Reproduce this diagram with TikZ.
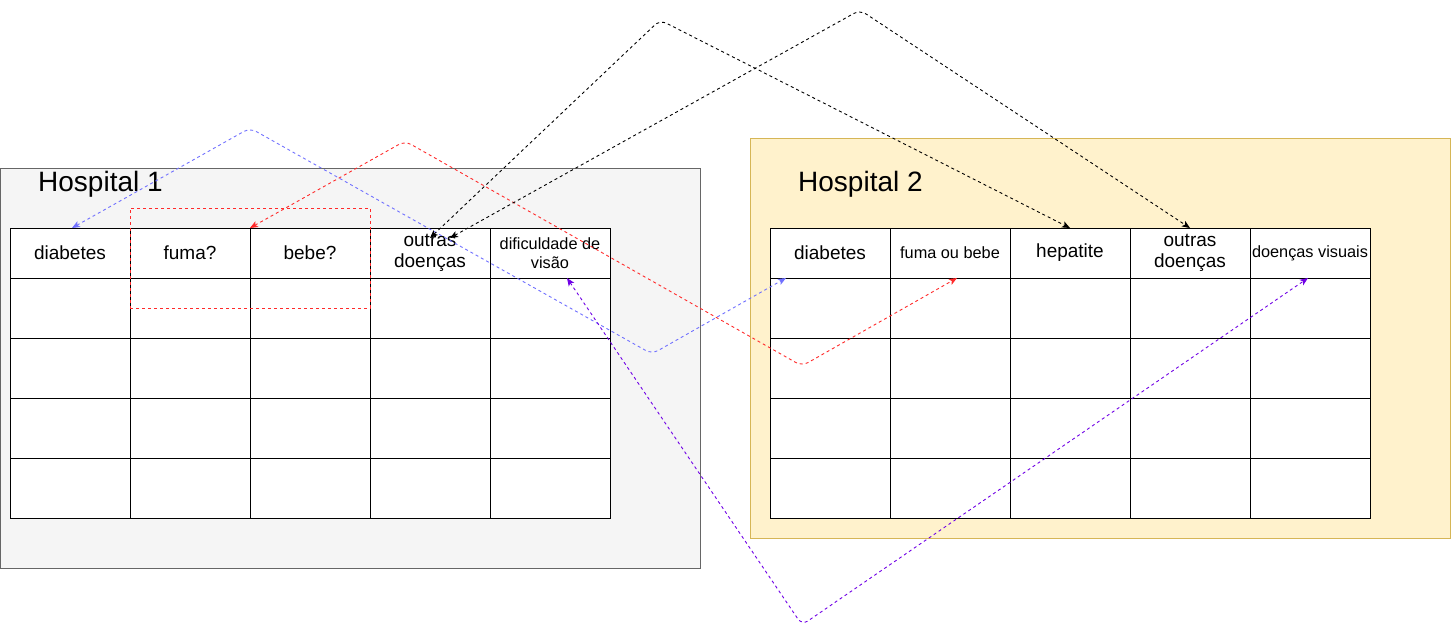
\documentclass[tikz,border=0pt]{standalone}
\usepackage{fontspec}
\setmainfont{Liberation Sans}
\usetikzlibrary{arrows.meta}
\definecolor{hosponefill}{HTML}{F5F5F5}
\definecolor{hosponedraw}{HTML}{666666}
\definecolor{hosptwofill}{HTML}{FFF2CC}
\definecolor{hosptwodraw}{HTML}{D6B656}
\definecolor{bluec}{HTML}{7070FF}
\definecolor{redc}{HTML}{FF2A2A}
\definecolor{purplec}{HTML}{7000E6}
\begin{document}
\begin{tikzpicture}[x=1pt,y=-1pt,
  hosp/.style={minimum width=700pt, minimum height=400pt, inner sep=0pt, outer sep=0pt, anchor=north west, line width=0.8pt},
  title/.style={font=\fontsize{28}{32}\selectfont, anchor=west, inner sep=0pt},
  cell/.style={draw=black, line width=1pt, fill=white, minimum width=120pt, minimum height=60pt, inner sep=0pt, outer sep=0pt, anchor=north west},
  head/.style={cell, minimum height=50pt, font=\fontsize{19}{21}\selectfont, align=center},
  small/.style={font=\fontsize{16.3}{19}\selectfont},
  conn/.style={dash pattern=on 3pt off 3pt, line width=0.9pt, rounded corners=7pt,
    {Stealth[length=8pt,width=6.5pt,inset=2pt]}-{Stealth[length=8pt,width=6.5pt,inset=2pt]}}
]
\useasboundingbox (0,0) rectangle (1451,638);

% hospital boxes
\node[hosp, draw=hosponedraw, fill=hosponefill] (h1) at (0,168) {};
\node[hosp, draw=hosptwodraw, fill=hosptwofill] (h2) at (750,138) {};
\node[title] (t1) at (38,184) {Hospital 1};
\node[title] (t2) at (798,184) {Hospital 2};

% table 1 header
\node[head] (a1) at (10,228) {diabetes};
\node[head] (a2) at (130,228) {fuma?};
\node[head] (a3) at (250,228) {bebe?};
\node[head] (a4) at (370,228) {outras\\doenças};
\node[head, small] (a5) at (490,228) {dificuldade de\\visão};
% table 2 header
\node[head] (b1) at (770,228) {diabetes};
\node[head, small] (b2) at (890,228) {fuma ou bebe};
\node[head] (b3) at (1010,228) {hepatite};
\node[head] (b4) at (1130,228) {outras\\doenças};
\node[head, small] (b5) at (1250,228) {doenças visuais};

% body cells
\foreach \i in {1,...,5}{
  \foreach \j in {1,...,4}{
    \node[cell] (ca\i-\j) at ({10+120*(\i-1)},{278+60*(\j-1)}) {};
    \node[cell] (cb\i-\j) at ({770+120*(\i-1)},{278+60*(\j-1)}) {};
  }
}

% selection rectangle
\node[draw=redc, dash pattern=on 3pt off 3pt, line width=0.9pt, minimum width=240pt, minimum height=100pt, inner sep=0pt, outer sep=0pt, anchor=north west] (sel) at (130,208) {};

% waypoints
\coordinate (wb1) at (250,128);
\coordinate (wb2) at (652,354);
\coordinate (wr1) at (405,141);
\coordinate (wr2) at (802,366);
\coordinate (wk1) at (660,20);
\coordinate (wk2) at (860,10);
\coordinate (wp1) at (802,625);

% connectors
\draw[conn, bluec] ([xshift=2pt]a1.north) -- (wb1) -- (wb2) -- ([xshift=16pt]b1.south west);
\draw[conn, redc] (a3.north west) -- (wr1) -- (wr2) -- ([xshift=67pt]b2.south west);
\draw[conn, black] ([yshift=-10pt]a4.north) -- (wk1) -- (b3.north);
\draw[conn, black] ([xshift=20pt,yshift=-10pt]a4.north) -- (wk2) -- (b4.north);
\draw[conn, purplec] ([xshift=17pt]a5.south) -- (wp1) -- ([xshift=-2pt]b5.south);
\end{tikzpicture}
\end{document}
